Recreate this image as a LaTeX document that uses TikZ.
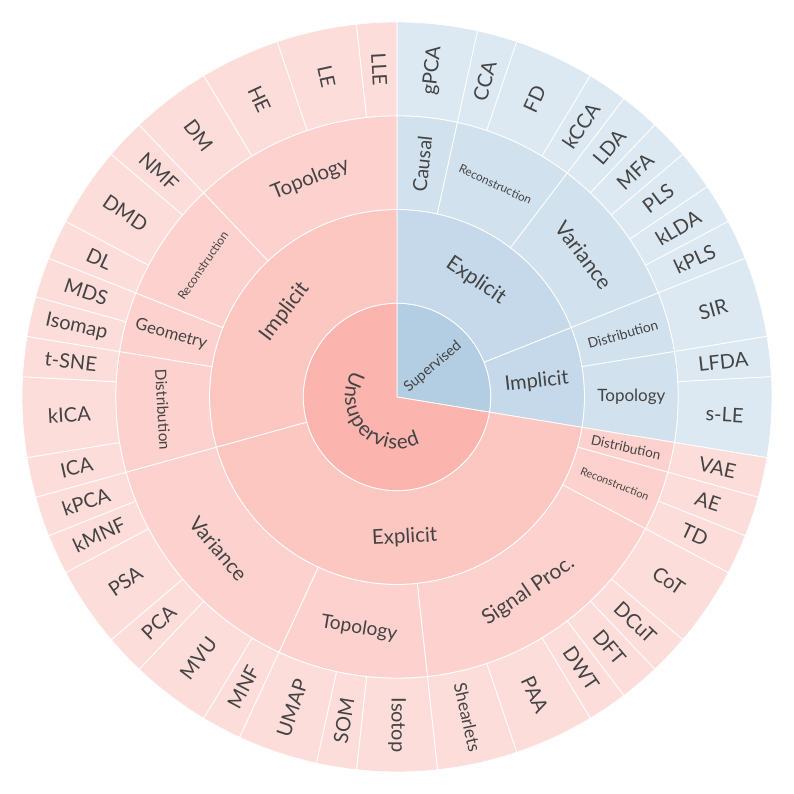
\documentclass[tikz,border=0pt]{standalone}
\usepackage{fontspec}
\setmainfont{Lato}
\definecolor{pinkA}{HTML}{FBB4AE}
\definecolor{blueA}{HTML}{B3CDE3}
\definecolor{txt}{HTML}{444444}
\colorlet{pinkB}{pinkA!76!white}
\colorlet{pinkC}{pinkA!60!white}
\colorlet{pinkD}{pinkA!46!white}
\colorlet{blueB}{blueA!76!white}
\colorlet{blueC}{blueA!60!white}
\colorlet{blueD}{blueA!46!white}
\def\U{6.2068966}
\def\rA{93.75}
\def\rB{187.5}
\def\rC{281.25}
\def\rD{375}
\def\mB{140.6}
\def\mC{234.4}
\def\mD{328.1}
\newcommand{\fsz}[1]{\fontsize{#1pt}{#1pt}\selectfont}
\tikzset{
  sepline/.style={draw=white, line width=0.8pt},
  lbl/.style={text=txt, inner sep=0pt, anchor=center}
}
% ring sector: rin, rout, kstart, kend, colour
\newcommand{\sect}[5]{%
  \pgfmathsetmacro\aS{90-(#3)*\U}%
  \pgfmathsetmacro\aE{90-(#4)*\U}%
  \path[fill=#5, sepline] (\aS:#1pt) arc[start angle=\aS, end angle=\aE, radius=#1pt]
    -- (\aE:#2pt) arc[start angle=\aE, end angle=\aS, radius=#2pt] -- cycle;}
% radial label: name, kmid, radius, size, text
\newcommand{\radlab}[5]{%
  \pgfmathsetmacro\thA{90-(#2)*\U}%
  \pgfmathsetmacro\rt{cos(\thA)>-0.01 ? \thA : \thA+180}%
  \node[lbl, rotate=\rt, font=\fsz{#4}] (#1) at (\thA:#3pt) {#5};}
% tangential label
\newcommand{\tanlab}[5]{%
  \pgfmathsetmacro\thA{90-(#2)*\U}%
  \pgfmathsetmacro\rt{sin(\thA)>=0 ? \thA-90 : \thA+90}%
  \node[lbl, rotate=\rt, font=\fsz{#4}] (#1) at (\thA:#3pt) {#5};}
\begin{document}
\begin{tikzpicture}
\useasboundingbox[fill=white] (-397pt,-397pt) rectangle (397pt,397pt);
% centre
\pgfmathsetmacro\cS{90-16*\U}
\path[fill=blueA, sepline] (0,0) -- (90:\rA pt) arc[start angle=90, end angle=\cS, radius=\rA pt] -- cycle;
\path[fill=pinkA, sepline] (0,0) -- (\cS:\rA pt) arc[start angle=\cS, end angle=-270, radius=\rA pt] -- cycle;
% ring 2
\sect{\rA}{\rB}{0}{11}{blueB}
\sect{\rA}{\rB}{11}{16}{blueB}
\sect{\rA}{\rB}{16}{41}{pinkB}
\sect{\rA}{\rB}{41}{58}{pinkB}
% ring 3
\foreach \a/\b in {0/2,2/6,6/11,11/13,13/16}{\sect{\rB}{\rC}{\a}{\b}{blueC}}
\foreach \a/\b in {16/17,17/19,19/28,28/33,33/41,41/45,45/47,47/51,51/58}{\sect{\rB}{\rC}{\a}{\b}{pinkC}}
% ring 4
\foreach \a/\b in {0/2,2/3,3/5,5/6,6/7,7/8,8/9,9/10,10/11,11/13,13/14,14/16}{\sect{\rC}{\rD}{\a}{\b}{blueD}}
\foreach \a/\b in {16/17,17/18,18/19,19/21,21/22,22/23,23/24,24/26,26/28,28/30,30/31,31/33,33/34,34/36,36/37,37/39,39/40,40/41,41/42,42/44,44/45,45/46,46/47,47/48,48/50,50/51,51/53,53/55,55/57,57/58}{\sect{\rC}{\rD}{\a}{\b}{pinkD}}
% centre labels
\node[lbl, rotate=40.3, font=\fsz{14.5}] (sup) at (40.3:47pt) {Supervised};
\begin{scope}
\fsz{20.5}
\pgfmathsetmacro\tot{width("Unsupervised")}
\pgfmathsetmacro\wdU{width("U")}
\pgfmathsetmacro\wdD{width("d")}
\def\Rb{52}
\pgfmathsetmacro\kk{132/((\tot-(\wdU+\wdD)/2)/\Rb*57.2958)}
\gdef\cum{0}
\foreach \ch [count=\i] in {U,n,s,u,p,e,r,v,i,s,e,d}{%
  \pgfmathsetmacro\wch{width("\ch")}%
  \pgfmathsetmacro\ang{222.5+\kk*(\cum+\wch/2-\tot/2)/\Rb*57.2958}%
  \pgfmathsetmacro\rotA{\ang+90}%
  \node[lbl, anchor=base, rotate=\rotA, font=\fsz{20.5}] (uns\i) at (\ang:\Rb pt) {\ch};%
  \pgfmathsetmacro\nc{\cum+\wch}%
  \global\let\cum\nc}
\end{scope}
% ring 2 labels
\tanlab{sup-exp}{5.5}{\mB}{21}{Explicit}
\radlab{sup-imp}{13.5}{\mB}{20}{Implicit}
\tanlab{uns-exp}{28.5}{\mB}{20.5}{Explicit}
\tanlab{uns-imp}{49.5}{\mB}{21}{Implicit}
% ring 3 labels
\radlab{s-causal}{1}{\mC}{19.5}{Causal}
\tanlab{s-recon}{4}{\mC}{11.8}{Reconstruction}
\tanlab{s-var}{8.5}{\mC}{21}{Variance}
\radlab{s-dist}{12}{\mC}{13.8}{Distribution}
\radlab{s-topo}{14.5}{\mC}{17}{Topology}
\radlab{u-dist1}{16.5}{\mC}{13.5}{Distribution}
\radlab{u-recon1}{18}{\mC}{10.9}{Reconstruction}
\tanlab{u-sig}{23.5}{\mC}{21}{Signal Proc.}
\tanlab{u-topo1}{30.5}{\mC}{19.2}{Topology}
\tanlab{u-var}{37}{\mC}{20.5}{Variance}
\tanlab{u-dist2}{43}{\mC}{15.4}{Distribution}
\radlab{u-geo}{46}{\mC}{16.7}{Geometry}
\tanlab{u-recon2}{49}{\mC}{12}{Reconstruction}
\tanlab{u-topo2}{54.5}{\mC}{20.5}{Topology}
% leaves
\foreach \nm/\k/\t in {gPCA/1/gPCA, CCA/2.5/CCA, FD/4/FD, kCCA/5.5/kCCA, LDA/6.5/LDA, MFA/7.5/MFA, PLS/8.5/PLS, kLDA/9.5/kLDA, kPLS/10.5/kPLS, SIR/12/SIR, LFDA/13.5/LFDA, sLE/15/s-LE,
  VAE/16.5/VAE, AE/17.5/AE, TD/18.5/TD, CoT/20/CoT, DCuT/21.5/DCuT, DFT/22.5/DFT, DWT/23.5/DWT, PAA/25/PAA, Isotop/29/Isotop, SOM/30.5/SOM, UMAP/32/UMAP, MNF/33.5/MNF, MVU/35/MVU, PCA/36.5/PCA, PSA/38/PSA, kMNF/39.5/kMNF, kPCA/40.5/kPCA, ICA/41.5/ICA, kICA/43/kICA, tSNE/44.5/t-SNE, Isomap/45.5/Isomap, MDS/46.5/MDS, DL/47.5/DL, DMD/49/DMD, NMF/50.5/NMF, DM/52/DM, HE/54/HE, LE/56/LE, LLE/57.5/LLE}
  {\radlab{leaf-\nm}{\k}{\mD}{20}{\t}}
\radlab{leaf-Shearlets}{27}{\mD}{17.5}{Shearlets}
\end{tikzpicture}
\end{document}
